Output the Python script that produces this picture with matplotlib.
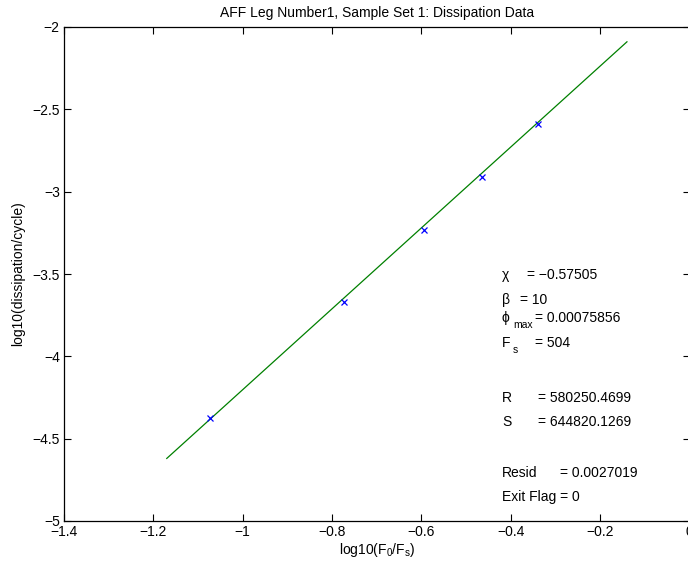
import numpy as np
import matplotlib.pyplot as plt

plt.rcParams['font.family'] = ['Liberation Sans', 'DejaVu Sans']
plt.rcParams['mathtext.fontset'] = 'custom'
plt.rcParams['mathtext.rm'] = 'Liberation Sans'
plt.rcParams['mathtext.it'] = 'Liberation Sans'
plt.rcParams['axes.unicode_minus'] = True

# measured points: log10(F0/Fs) vs log10(dissipation/cycle)
log_f = [-1.073, -0.773, -0.595, -0.465, -0.340]
log_d = [-4.374, -3.670, -3.230, -2.910, -2.590]

# fitted line end points
fit_x = [-1.17, -0.14]
fit_y = [-4.62, -2.09]

# fit results shown on the plot (name, subscript, value)
param_names = ['χ', 'β', 'ϕ', 'F', 'R', 'S', 'Resid']
param_subs = ['', '', 'max', 's', '', '', '']
param_values = ['−0.57505', '10', '0.00075856', '504',
                '580250.4699', '644820.1269', '0.0027019']
exit_flag = 0

fs = 10
fig = plt.figure(figsize=(6.88, 5.63), dpi=100)
ax = fig.add_axes([64 / 688, 42 / 563, 625.5 / 688, 494 / 563])

ax.plot(fit_x, fit_y, color=(0, 0.5, 0), lw=0.9)
ax.plot(log_f, log_d, 'x', color=(0, 0, 1), ms=5, mew=0.9)

ax.set_xlim(-1.4, 0)
ax.set_ylim(-5, -2)
ax.set_xticks(np.arange(-1.4, 0.01, 0.2))
ax.set_xticklabels(['−1.4', '−1.2', '−1', '−0.8', '−0.6', '−0.4', '−0.2', '0'])
ax.set_yticks(np.arange(-5, -1.99, 0.5))
ax.set_yticklabels(['−5', '−4.5', '−4', '−3.5', '−3', '−2.5', '−2'])
ax.tick_params(direction='in', length=5, width=0.8, top=True, right=True,
               labelsize=fs, pad=3)
for s in ax.spines.values():
    s.set_linewidth(0.9)

ax.set_title('AFF Leg Number1, Sample Set 1: Dissipation Data', fontsize=fs, pad=7)
ax.set_xlabel(r'$\mathregular{log10(F_0/F_s)}$', fontsize=fs, labelpad=1)
ax.set_ylabel('log10(dissipation/cycle)', fontsize=fs, labelpad=5)

# text block, pixel rows from top of figure
rows = [275, 300, 318, 343, 398, 422, 473]
eq_x = [527, 520, 535, 535, 538, 538, 560]
for name, sub, val, r, ex in zip(param_names, param_subs, param_values, rows, eq_x):
    y = 1 - r / 563
    fig.text(502 / 688, y, name, fontsize=fs, va='center', ha='left')
    if sub:
        fig.text(513 / 688, y - 7 / 563, sub, fontsize=7.5, va='center', ha='left')
    fig.text(ex / 688, y, '= ' + val, fontsize=fs, va='center', ha='left')
fig.text(502 / 688, 1 - 497 / 563, 'Exit Flag = %d' % exit_flag, fontsize=fs,
         va='center', ha='left')

fig.savefig('out.png', dpi=100)
